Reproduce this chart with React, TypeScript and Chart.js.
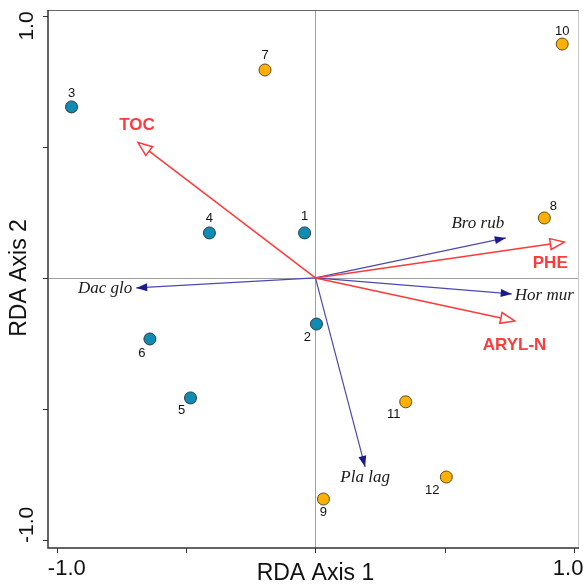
import React, { useEffect, useRef } from "react";
import { Chart, registerables } from "chart.js";

Chart.register(...registerables);

// Site scores (RDA axis 1, axis 2)
const siteLabels = ["1", "2", "3", "4", "5", "6", "7", "8", "9", "10", "11", "12"];
const siteAxis1 = [-0.042, 0.004, -0.943, -0.41, -0.483, -0.64, -0.195, 0.885, 0.031, 0.954, 0.349, 0.506];
const siteAxis2 = [0.172, -0.176, 0.653, 0.172, -0.458, -0.233, 0.794, 0.229, -0.844, 0.893, -0.473, -0.76];
const siteGroup = ["a", "a", "a", "a", "a", "a", "b", "b", "b", "b", "b", "b"];

// Environmental vectors
const envNames = ["TOC", "PHE", "ARYL-N"];
const envAxis1 = [-0.686, 0.962, 0.77];
const envAxis2 = [0.517, 0.137, -0.164];

// Species vectors
const spNames = ["Bro rub", "Hor mur", "Dac glo", "Pla lag"];
const spAxis1 = [0.736, 0.759, -0.693, 0.192];
const spAxis2 = [0.153, -0.061, -0.038, -0.721];

const tickValues = [-1, -0.5, 0, 0.5, 1];
const tickLabels = ["-1.0", "", "", "", "1.0"];

// label placement (pixel offsets), kept apart from data
const siteLabelOffsets: [number, number][] = [
  [0, -16], [-9, 13], [0, -13], [0, -14], [-9, 13], [-8, 14],
  [0, -15], [9, -12], [0, 13], [0, -13], [-12, 13], [-14, 13],
];
const envLabelOffsets: [number, number][] = [[-1, -17], [-14, 21], [0, 24]];
const spLabel: { dx: number; dy: number; align: CanvasTextAlign }[] = [
  { dx: -28, dy: -14, align: "center" },
  { dx: 3, dy: 2, align: "left" },
  { dx: -4, dy: 1, align: "right" },
  { dx: 0, dy: 11, align: "center" },
];

const BLUE = "#0f8bb4";
const ORANGE = "#ffb000";
const RED = "#ff3a3a";
const NAVY = "#1b1b8a";
const NAVY_LINE = "#4a4aae";

function arrowHead(ctx: CanvasRenderingContext2D, x0: number, y0: number, x1: number, y1: number, len: number, half: number) {
  const a = Math.atan2(y1 - y0, x1 - x0);
  const bx = x1 - len * Math.cos(a);
  const by = y1 - len * Math.sin(a);
  const px = -Math.sin(a) * half;
  const py = Math.cos(a) * half;
  ctx.beginPath();
  ctx.moveTo(x1, y1);
  ctx.lineTo(bx + px, by + py);
  ctx.lineTo(bx - px, by - py);
  ctx.closePath();
  return { bx, by };
}

const biplotPlugin = {
  id: "biplot",
  beforeDatasetsDraw(chart: any) {
    const { ctx, chartArea: ca, scales } = chart;
    const xs = scales.x;
    const ys = scales.y;
    const x0 = xs.getPixelForValue(0);
    const y0 = ys.getPixelForValue(0);
    ctx.save();
    // crosshair
    ctx.strokeStyle = "#a0a0a0";
    ctx.lineWidth = 1;
    ctx.beginPath();
    ctx.moveTo(Math.round(x0) + 0.5, ca.top);
    ctx.lineTo(Math.round(x0) + 0.5, ca.bottom);
    ctx.moveTo(ca.left, Math.round(y0) + 0.5);
    ctx.lineTo(ca.right, Math.round(y0) + 0.5);
    ctx.stroke();

    // frame
    ctx.strokeStyle = "#c8c8c8";
    ctx.beginPath();
    ctx.moveTo(ca.right - 0.5, ca.top);
    ctx.lineTo(ca.right - 0.5, ca.bottom);
    ctx.stroke();
    ctx.strokeStyle = "#666";
    ctx.lineWidth = 1.2;
    ctx.beginPath();
    ctx.moveTo(ca.left, ca.top + 0.5);
    ctx.lineTo(ca.right, ca.top + 0.5);
    ctx.stroke();
    ctx.strokeStyle = "#333";
    ctx.lineWidth = 1.5;
    ctx.beginPath();
    ctx.moveTo(ca.left, ca.top);
    ctx.lineTo(ca.left, ca.bottom);
    ctx.lineTo(ca.right, ca.bottom);
    ctx.stroke();

    // ticks
    ctx.lineWidth = 1;
    ctx.strokeStyle = "#333";
    tickValues.forEach((v) => {
      const px = Math.round(xs.getPixelForValue(v)) + 0.5;
      ctx.beginPath();
      ctx.moveTo(px, ca.bottom);
      ctx.lineTo(px, ca.bottom + 5);
      ctx.stroke();
      const py = Math.round(ys.getPixelForValue(v)) + 0.5;
      ctx.beginPath();
      ctx.moveTo(ca.left, py);
      ctx.lineTo(ca.left - 5, py);
      ctx.stroke();
    });

    // tick labels
    ctx.fillStyle = "#111";
    ctx.font = "22px 'Liberation Sans', Arial, sans-serif";
    ctx.textAlign = "center";
    ctx.textBaseline = "middle";
    tickValues.forEach((v, i) => {
      const t = tickLabels[i];
      if (!t) return;
      const px = xs.getPixelForValue(v) + (v < 0 ? 10 : -6);
      ctx.fillText(t, px, ca.bottom + 21);
    });
    ctx.font = "21px 'Liberation Sans', Arial, sans-serif";
    tickValues.forEach((v, i) => {
      const t = tickLabels[i];
      if (!t) return;
      const py = ys.getPixelForValue(v) + (v < 0 ? -15 : 10);
      ctx.save();
      ctx.translate(27, py);
      ctx.rotate(-Math.PI / 2);
      ctx.fillText(t, 0, 0);
      ctx.restore();
    });

    // axis titles
    ctx.font = "23px 'Liberation Sans', Arial, sans-serif";
    ctx.fillText("RDA Axis 1", x0, ca.bottom + 26);
    ctx.save();
    ctx.translate(20, y0);
    ctx.rotate(-Math.PI / 2);
    ctx.fillText("RDA Axis 2", 0, 0);
    ctx.restore();

    // species vectors
    spNames.forEach((name, i) => {
      const x1 = xs.getPixelForValue(spAxis1[i]);
      const y1 = ys.getPixelForValue(spAxis2[i]);
      ctx.strokeStyle = NAVY_LINE;
      ctx.lineWidth = 1.2;
      ctx.beginPath();
      ctx.moveTo(x0, y0);
      ctx.lineTo(x1, y1);
      ctx.stroke();
      ctx.fillStyle = NAVY;
      arrowHead(ctx, x0, y0, x1, y1, 11, 4);
      ctx.fill();
      const lp = spLabel[i];
      ctx.fillStyle = "#1a1a1a";
      ctx.font = "italic 17px 'Liberation Serif', 'Times New Roman', serif";
      ctx.textAlign = lp.align;
      ctx.textBaseline = "middle";
      ctx.fillText(name, x1 + lp.dx, y1 + lp.dy);
    });

    // environmental vectors
    envNames.forEach((name, i) => {
      const x1 = xs.getPixelForValue(envAxis1[i]);
      const y1 = ys.getPixelForValue(envAxis2[i]);
      const a = Math.atan2(y1 - y0, x1 - x0);
      const bx = x1 - 14 * Math.cos(a);
      const by = y1 - 14 * Math.sin(a);
      ctx.strokeStyle = RED;
      ctx.lineWidth = 1.5;
      ctx.beginPath();
      ctx.moveTo(x0, y0);
      ctx.lineTo(bx, by);
      ctx.stroke();
      ctx.fillStyle = "#ffffff";
      arrowHead(ctx, x0, y0, x1, y1, 14, 5.5);
      ctx.fill();
      ctx.stroke();
      const off = envLabelOffsets[i];
      ctx.fillStyle = RED;
      ctx.font = "bold 17px 'Liberation Sans', Arial, sans-serif";
      ctx.textAlign = "center";
      ctx.textBaseline = "middle";
      ctx.fillText(name, x1 + off[0], y1 + off[1]);
    });
    ctx.restore();
  },
  afterDatasetsDraw(chart: any) {
    const { ctx, scales } = chart;
    ctx.save();
    ctx.fillStyle = "#111";
    ctx.font = "13px 'Liberation Sans', Arial, sans-serif";
    ctx.textAlign = "center";
    ctx.textBaseline = "middle";
    siteLabels.forEach((t, i) => {
      const px = scales.x.getPixelForValue(siteAxis1[i]);
      const py = scales.y.getPixelForValue(siteAxis2[i]);
      const o = siteLabelOffsets[i];
      ctx.fillText(t, px + o[0], py + o[1]);
    });
    ctx.restore();
  },
};

export default function App() {
  const ref = useRef<HTMLCanvasElement | null>(null);
  useEffect(() => {
    document.body.style.margin = "0";
    if (!ref.current) return;
    const mk = (g: string) =>
      siteAxis1
        .map((x, i) => ({ x, y: siteAxis2[i], g: siteGroup[i] }))
        .filter((p) => p.g === g)
        .map((p) => ({ x: p.x, y: p.y }));
    const chart = new Chart(ref.current, {
      type: "scatter",
      data: {
        datasets: [
          { label: "a", data: mk("a"), backgroundColor: BLUE, borderColor: "#2a3a44", borderWidth: 1, pointRadius: 6 },
          { label: "b", data: mk("b"), backgroundColor: ORANGE, borderColor: "#5a4a20", borderWidth: 1, pointRadius: 6 },
        ],
      },
      options: {
        animation: false,
        responsive: false,
        events: [],
        layout: { padding: { left: 48, top: 10, right: 2, bottom: 37 } },
        plugins: { legend: { display: false }, tooltip: { enabled: false } },
        scales: {
          x: { type: "linear", min: -1.034, max: 1.019, display: false },
          y: { type: "linear", min: -1.031, max: 1.023, display: false },
        },
      },
      plugins: [biplotPlugin],
    });
    return () => chart.destroy();
  }, []);
  return (
    <div style={{ position: "absolute", left: 0, top: 0, width: 586, height: 585, background: "#fff" }}>
      <canvas ref={ref} width={586} height={585} style={{ width: 586, height: 585, display: "block" }} />
    </div>
  );
}
